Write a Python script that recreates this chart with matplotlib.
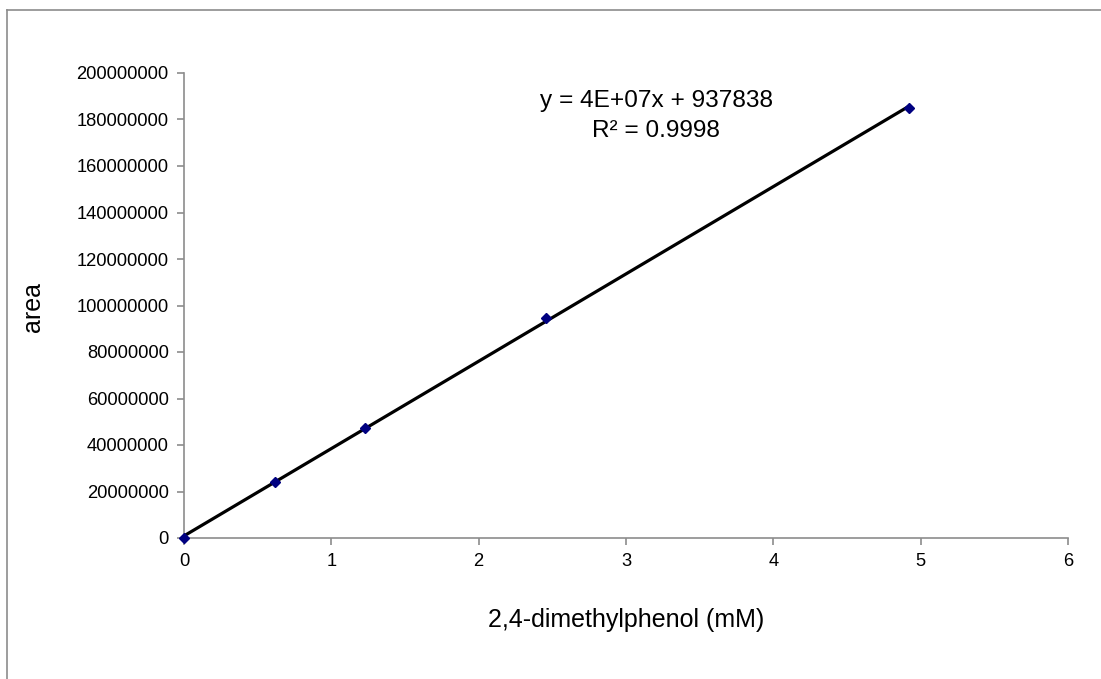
import matplotlib
matplotlib.use("Agg")
import matplotlib.pyplot as plt
import numpy as np
from matplotlib.ticker import FuncFormatter, MultipleLocator
from matplotlib.lines import Line2D

plt.rcParams['font.family'] = ['Liberation Sans', 'DejaVu Sans']

conc = [0.0, 0.615, 1.23, 2.46, 4.92]
area = [0.0, 24000000, 47500000, 94500000, 185000000]
eq_lines = ["y = 4E+07x + 937838", "R² = 0.9998"]
xlabel = "2,4-dimethylphenol (mM)"
ylabel = "area"

W, H = 1101, 679
fig = plt.figure(figsize=(W / 100, H / 100), dpi=100)
ax = fig.add_axes([184 / W, 1 - 538 / H, (1068 - 184) / W, (538 - 73) / H])

# figure border (left and top only visible)
fig.add_artist(Line2D([7 / W, 7 / W], [0, 1 - 10 / H], color='#8c8c8c', lw=1.2, transform=fig.transFigure))
fig.add_artist(Line2D([7 / W, 1], [1 - 10 / H, 1 - 10 / H], color='#8c8c8c', lw=1.2, transform=fig.transFigure))

# trendline
coef = np.polyfit(conc, area, 1)
xs = np.array([min(conc), max(conc)])
ax.plot(xs, np.polyval(coef, xs), color='black', lw=2.3, zorder=2)
ax.plot(conc, area, linestyle='none', marker='D', markersize=5, color='#000080', zorder=3, clip_on=False)

ax.set_xlim(0, 6)
ax.set_ylim(0, 200000000)
ax.xaxis.set_major_locator(MultipleLocator(1))
ax.yaxis.set_major_locator(MultipleLocator(20000000))
ax.yaxis.set_major_formatter(FuncFormatter(lambda v, p: f"{int(round(v))}"))
ax.xaxis.set_major_formatter(FuncFormatter(lambda v, p: f"{int(round(v))}"))

for s in ['top', 'right']:
    ax.spines[s].set_visible(False)
for s in ['left', 'bottom']:
    ax.spines[s].set_color('#8c8c8c')
    ax.spines[s].set_linewidth(1.2)
ax.tick_params(axis='both', direction='out', length=5, width=1.2, color='#8c8c8c', labelsize=13.2, pad=6)

fig.text(626 / W, 1 - 620 / H, xlabel, fontsize=18, ha='center', va='center')
fig.text(33 / W, 1 - 307 / H, ylabel, fontsize=18, ha='center', va='center', rotation=90)

fig.text(656 / W, 1 - 101 / H, eq_lines[0], fontsize=17.6, ha='center', va='center')
fig.text(656 / W, 1 - 131 / H, eq_lines[1], fontsize=17.6, ha='center', va='center')

fig.savefig("out.png", dpi=100, facecolor='white')
